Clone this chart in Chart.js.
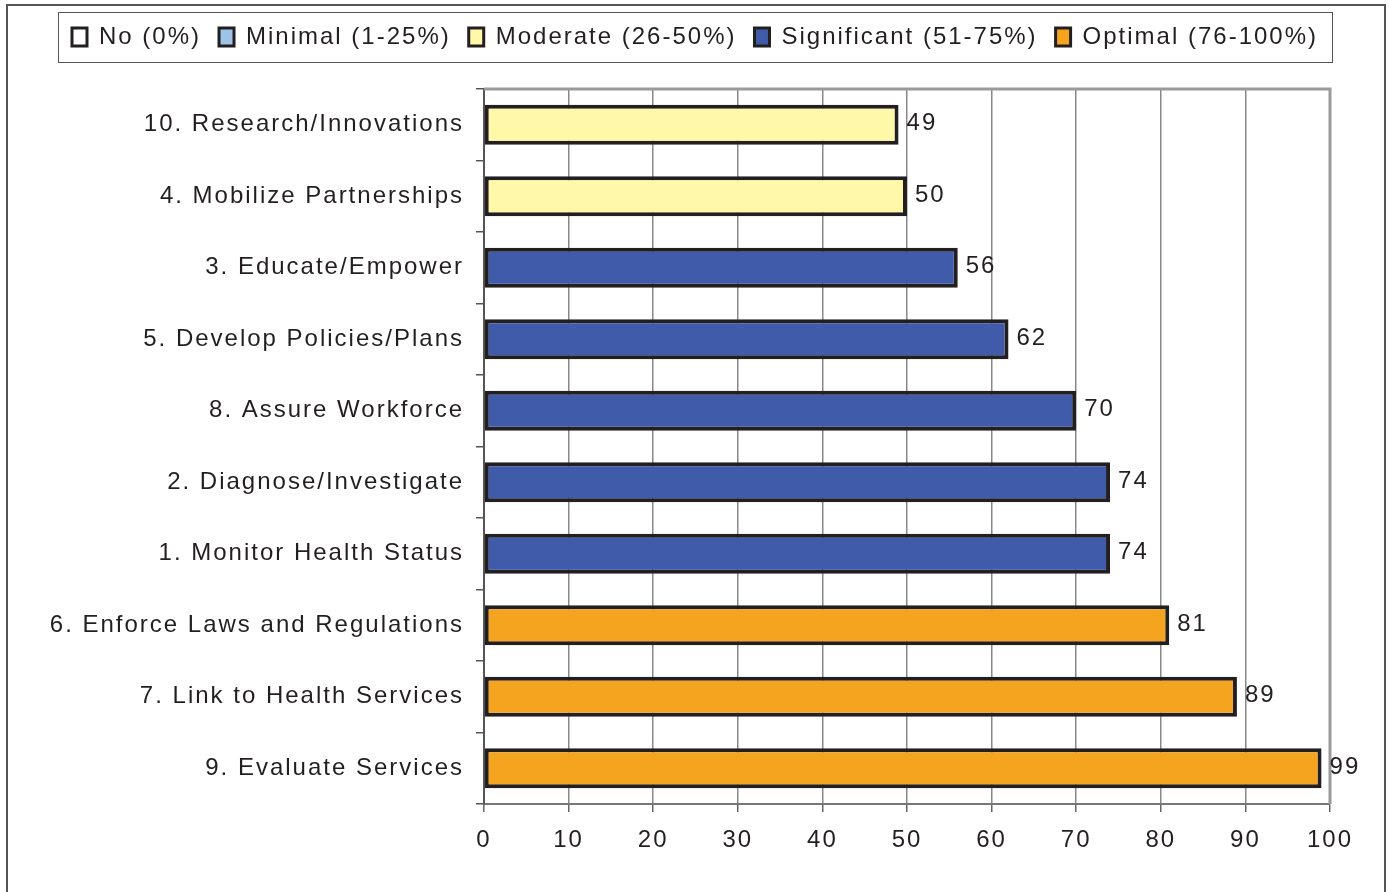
<!DOCTYPE html>
<html><head><meta charset="utf-8">
<script src="https://cdn.jsdelivr.net/npm/chart.js@4.4.1/dist/chart.umd.min.js"></script>
<style>html,body{margin:0;padding:0;background:#fff;overflow:hidden}</style>
</head><body>
<canvas id="c" width="1390" height="892"></canvas>
<script>
const categories = [
  '10. Research/Innovations',
  '4. Mobilize Partnerships',
  '3. Educate/Empower',
  '5. Develop Policies/Plans',
  '8. Assure Workforce',
  '2. Diagnose/Investigate',
  '1. Monitor Health Status',
  '6. Enforce Laws and Regulations',
  '7. Link to Health Services',
  '9. Evaluate Services'
];
const values = [49, 50, 56, 62, 70, 74, 74, 81, 89, 99];
const levels = ['Moderate','Moderate','Significant','Significant','Significant','Significant','Significant','Optimal','Optimal','Optimal'];
const levelKeys = ['No','Minimal','Moderate','Significant','Optimal'];
const levelNames = ['No (0%)','Minimal (1-25%)','Moderate (26-50%)','Significant (51-75%)','Optimal (76-100%)'];
const levelColors = ['#ffffff','#9dc3e6','#fff8a8','#3f5ba9','#f5a41f'];
const xMin = 0, xMax = 100, xStep = 10;

const FAMILY = '"Liberation Sans", Arial, Helvetica, sans-serif';
const TEXT = '#231f20';
const LS = '2px';
function setLS(chart){ try { chart.ctx.letterSpacing = LS; } catch(e){} }

const decor = {
  id: 'decor',
  beforeUpdate: setLS,
  beforeLayout: setLS,
  beforeDraw(chart){
    setLS(chart);
    const ctx = chart.ctx;
    ctx.save();
    ctx.fillStyle = '#fff';
    ctx.fillRect(0, 0, chart.width, chart.height);
    ctx.strokeStyle = '#555';
    ctx.lineWidth = 2;
    ctx.beginPath();
    ctx.moveTo(7, chart.height + 2);
    ctx.lineTo(7, 5);
    ctx.lineTo(1385, 5);
    ctx.lineTo(1385, chart.height + 2);
    ctx.stroke();
    ctx.restore();
  },
  beforeDatasetsDraw(chart){
    const a = chart.chartArea, ctx = chart.ctx;
    ctx.save();
    ctx.strokeStyle = '#9a9a9a';
    ctx.lineWidth = 3;
    ctx.beginPath();
    ctx.moveTo(a.left, a.top);
    ctx.lineTo(a.right, a.top);
    ctx.lineTo(a.right, a.bottom);
    ctx.stroke();
    ctx.restore();
  },
  afterDatasetsDraw(chart){
    const ctx = chart.ctx;
    const meta = chart.getDatasetMeta(0);
    ctx.save();
    setLS(chart);
    ctx.font = '24px ' + FAMILY;
    ctx.fillStyle = TEXT;
    ctx.textAlign = 'left';
    ctx.textBaseline = 'middle';
    meta.data.forEach((bar, i) => {
      ctx.fillText(String(values[i]), bar.x + 8, bar.y - 1);
    });
    ctx.restore();
  },
  afterDraw(chart){
    const lg = chart.legend;
    if (!lg || !lg.legendHitBoxes || !lg.legendHitBoxes.length) return;
    const hb = lg.legendHitBoxes;
    const first = hb[0], last = hb[hb.length - 1];
    const ctx = chart.ctx;
    ctx.save();
    ctx.strokeStyle = '#555';
    ctx.lineWidth = 1;
    const l = Math.round(first.left - 14) + 0.5;
    const r = Math.round(last.left + last.width + 14) + 0.5;
    ctx.strokeRect(l, 12.5, r - l, 50);
    ctx.restore();
  }
};

const font24 = { family: FAMILY, size: 24 };

new Chart(document.getElementById('c'), {
  type: 'bar',
  data: {
    labels: categories,
    datasets: [{
      data: values,
      backgroundColor: levels.map(l => levelColors[levelKeys.indexOf(l)]),
      borderColor: TEXT,
      borderWidth: 4,
      borderSkipped: false,
      barPercentage: 0.56,
      categoryPercentage: 1
    }]
  },
  options: {
    indexAxis: 'y',
    responsive: false,
    devicePixelRatio: 1,
    animation: false,
    layout: { padding: { top: 7, right: 0, bottom: 38, left: 0 } },
    plugins: {
      legend: {
        position: 'top',
        onClick: null,
        labels: {
          font: font24,
          color: TEXT,
          boxWidth: 15,
          boxHeight: 18,
          padding: 18,
          generateLabels: () => levelNames.map((n, i) => ({
            text: n, fillStyle: levelColors[i], strokeStyle: TEXT, lineWidth: 3,
            hidden: false, index: i, fontColor: TEXT
          }))
        }
      },
      title: { display: true, text: '', weight: 500, font: { size: 10, lineHeight: 1 }, padding: { top: 0, bottom: 20 } },
      tooltip: { enabled: false }
    },
    scales: {
      x: {
        type: 'linear',
        min: xMin, max: xMax,
        ticks: { stepSize: xStep, font: font24, color: TEXT, padding: 14 },
        grid: { color: '#888', lineWidth: 1.5, tickLength: 8, tickColor: '#666' },
        border: { color: '#777', width: 2 },
        afterFit(s) { s.height = 50; }
      },
      y: {
        ticks: { font: font24, color: TEXT, padding: 12, autoSkip: false },
        grid: { drawOnChartArea: false, tickLength: 8, color: '#555', lineWidth: 1.5, offset: true },
        border: { color: '#555', width: 2 },
        afterFit(s) { s.width = 484; }
      },
      y2: {
        type: 'linear',
        position: 'right',
        ticks: { display: false },
        grid: { display: false },
        border: { display: false },
        afterFit(s) { s.width = 60; }
      }
    }
  },
  plugins: [decor]
});
</script>
</body></html>
